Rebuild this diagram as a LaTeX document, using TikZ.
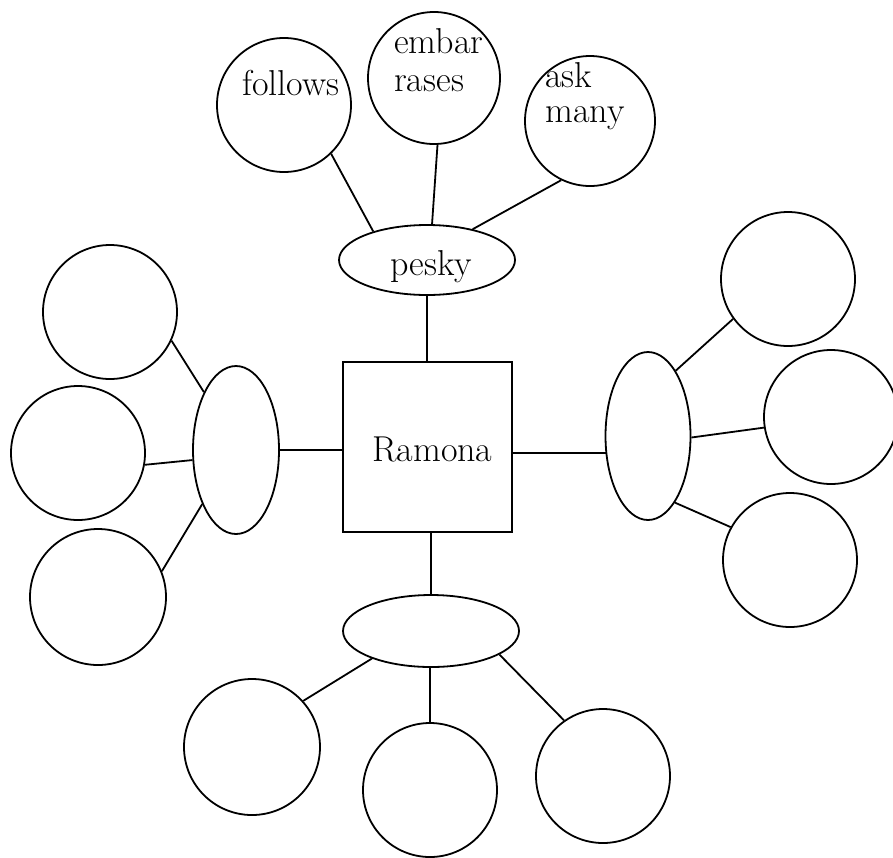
\documentclass[tikz,border=0pt]{standalone}
\usetikzlibrary{shapes.geometric}
\begin{document}
\begin{tikzpicture}[x=1pt,y=-1pt,
  lw/.style={line width=1.8pt},
  bubble/.style={circle, draw, lw, inner sep=0pt, minimum size=#1},
  oval/.style n args={2}{ellipse, draw, lw, inner sep=0pt, minimum width=#1, minimum height=#2},
  box/.style n args={2}{rectangle, draw, lw, inner sep=0pt, minimum width=#1, minimum height=#2},
  txt/.style={anchor=base west, inner sep=0pt, font=\fontsize{36}{42}\selectfont},
  conn/.style={lw}]
\useasboundingbox (0,0) rectangle (893,857);
% top group
\node[bubble=134] (follows) at (284,105) {};
\node[bubble=132] (embar) at (434,78) {};
\node[bubble=130] (ask) at (590,121) {};
\node[oval={176}{70}] (pesky) at (427,260) {};
% centre
\node[box={169}{170}] (ramona) at (427.5,447) {};
% left group
\node[oval={86}{168}] (lell) at (236,450) {};
\node[bubble=134] (lt) at (110,312) {};
\node[bubble=134] (lm) at (78,453) {};
\node[bubble=136] (lb) at (98,597) {};
% right group
\node[oval={85}{168}] (rell) at (648,436) {};
\node[bubble=134] (rt) at (788,279) {};
\node[bubble=134] (rm) at (831,417) {};
\node[bubble=134] (rb) at (790,560) {};
% bottom group
\node[oval={176}{72}] (bell) at (431,631) {};
\node[bubble=136] (bl) at (252,747) {};
\node[bubble=134] (bm) at (430,790) {};
\node[bubble=134] (br) at (603,776) {};
% texts
\node[txt] (tfollows) at (242,95) {follows};
\node[txt] (tembar) at (394,53) {embar};
\node[txt] (trases) at (394,91) {rases};
\node[txt] (task) at (545,87) {ask};
\node[txt] (tmany) at (545,122) {many};
\node[txt] (tpesky) at (390,275) {pesky};
\node[txt] (tramona) at (372,461) {Ramona};
% connectors
\draw[conn] (follows.-46) -- (pesky.152.6);
\draw[conn] (embar.-87) -- (pesky.82);
\draw[conn] (ask.244.7) -- (pesky.34.5);
\draw[conn] (pesky.south) -- (pesky.south |- ramona.north);
\draw[conn] (lt.-25.4) -- (lell.119.3);
\draw[conn] (lm.-10) -- (lell.193.7);
\draw[conn] (lb.22.9) -- (lell.238.2);
\draw[conn] (lell.east) -- (lell.east -| ramona.west);
\draw[conn] (rt.216.3) -- (rell.67.9);
\draw[conn] (rm.189.5) -- (rell.-2.7);
\draw[conn] (rb.151.5) -- (rell.-68.2);
\draw[conn] (rell.202.5) -- (rell.202.5 -| ramona.east);
\draw[conn] (bell.north) -- (bell.north |- ramona.south);
\draw[conn] (bl.42) -- (bell.205.4);
\draw[conn] (bm.north) -- (bm.north |- bell.south);
\draw[conn] (br.125.5) -- (bell.-19.7);
\end{tikzpicture}
\end{document}
